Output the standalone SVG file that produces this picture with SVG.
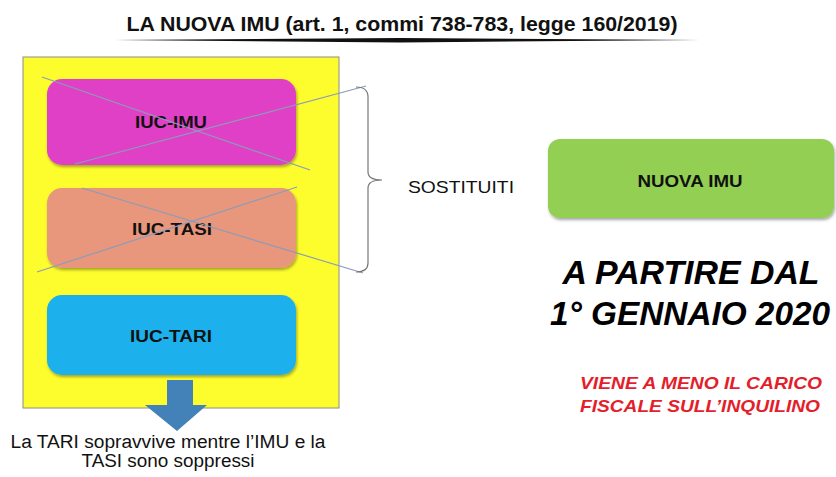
<svg xmlns="http://www.w3.org/2000/svg" width="836" height="477" viewBox="0 0 836 477">
<defs>
<style>
.box{stroke:none;filter:url(#sh)}
.lbl{font-family:"Liberation Sans",Arial,sans-serif;font-weight:bold;font-size:16px;fill:#111;text-anchor:middle}
.cross{stroke:#8b9cb8;stroke-width:1.2;fill:none}
.txt{font-family:"Liberation Sans",Arial,sans-serif;fill:#111}
.big{font-family:"Liberation Sans",Arial,sans-serif;font-weight:bold;font-style:italic;font-size:33px;fill:#000;text-anchor:middle}
.red{font-family:"Liberation Sans",Arial,sans-serif;font-weight:bold;font-style:italic;font-size:17px;fill:#e41e2b;text-anchor:middle}
</style>
<filter id="sh" x="-10%" y="-10%" width="120%" height="130%">
<feDropShadow dx="1" dy="2" stdDeviation="1.5" flood-color="#000" flood-opacity="0.35"/>
</filter>
</defs>
<rect width="836" height="477" fill="#fff"/>
<g id="title">
<text x="402" y="31" class="txt" font-size="20" font-weight="bold" text-anchor="middle" textLength="551" lengthAdjust="spacingAndGlyphs">LA NUOVA IMU (art. 1, commi 738-783, legge 160/2019)</text>
<polygon points="115,40 400,38 700,40 400,42.5" fill="#111"/>
</g>
<g id="container">
<rect x="23" y="57" width="316" height="351" fill="#fdfd2e" stroke="#8c8c8c" stroke-width="1"/>
</g>
<g id="iuc-imu">
<rect class="box" x="47" y="79" width="249" height="86" rx="15" fill="#df40c6"/>
<text class="lbl" x="171" y="128" textLength="72" lengthAdjust="spacingAndGlyphs">IUC-IMU</text>
</g>
<g id="iuc-tasi">
<rect class="box" x="47" y="188" width="249" height="80" rx="15" fill="#e8977b"/>
<text class="lbl" x="172" y="235" textLength="80" lengthAdjust="spacingAndGlyphs">IUC-TASI</text>
</g>
<g id="iuc-tari">
<rect class="box" x="47" y="295" width="249" height="80" rx="15" fill="#1fb0ec"/>
<text class="lbl" x="171" y="342" textLength="82" lengthAdjust="spacingAndGlyphs">IUC-TARI</text>
</g>
<g id="connectors">
<line class="cross" x1="42" y1="77" x2="310" y2="170"/>
<line class="cross" x1="75" y1="164" x2="366" y2="86"/>
<line class="cross" x1="82" y1="188" x2="363" y2="273"/>
<line class="cross" x1="37" y1="272" x2="297" y2="187"/>
<path d="M356,87 Q368,87 368,97 L368,172 Q368,180 382,180 Q368,180 368,188 L368,263 Q368,272 356,272" fill="none" stroke="#777" stroke-width="1.2"/>
<polygon points="167,380 193,380 193,405 207,405 177,431 145,405 167,405" fill="#4382b8"/>
</g>
<g id="sostituiti">
<text x="408" y="193" class="txt" font-size="17" textLength="106" lengthAdjust="spacingAndGlyphs">SOSTITUITI</text>
</g>
<g id="nuova-imu">
<rect class="box" x="548" y="139" width="286" height="79" rx="12" fill="#92cf52"/>
<text class="lbl" x="690" y="187" font-size="17" textLength="105" lengthAdjust="spacingAndGlyphs">NUOVA IMU</text>
</g>
<g id="date">
<text class="big" x="691" y="284" textLength="257" lengthAdjust="spacingAndGlyphs">A PARTIRE DAL</text>
<text class="big" x="690" y="325" textLength="280" lengthAdjust="spacingAndGlyphs">1° GENNAIO 2020</text>
</g>
<g id="note">
<text class="red" x="701" y="389" textLength="242" lengthAdjust="spacingAndGlyphs">VIENE A MENO IL CARICO</text>
<text class="red" x="700" y="412" textLength="240" lengthAdjust="spacingAndGlyphs">FISCALE SULL’INQUILINO</text>
</g>
<g id="caption">
<text x="168" y="448" class="txt" font-size="18" text-anchor="middle" textLength="315" lengthAdjust="spacingAndGlyphs">La TARI sopravvive mentre l’IMU e la</text>
<text x="168" y="467" class="txt" font-size="18" text-anchor="middle" textLength="173" lengthAdjust="spacingAndGlyphs">TASI sono soppressi</text>
</g>
</svg>
